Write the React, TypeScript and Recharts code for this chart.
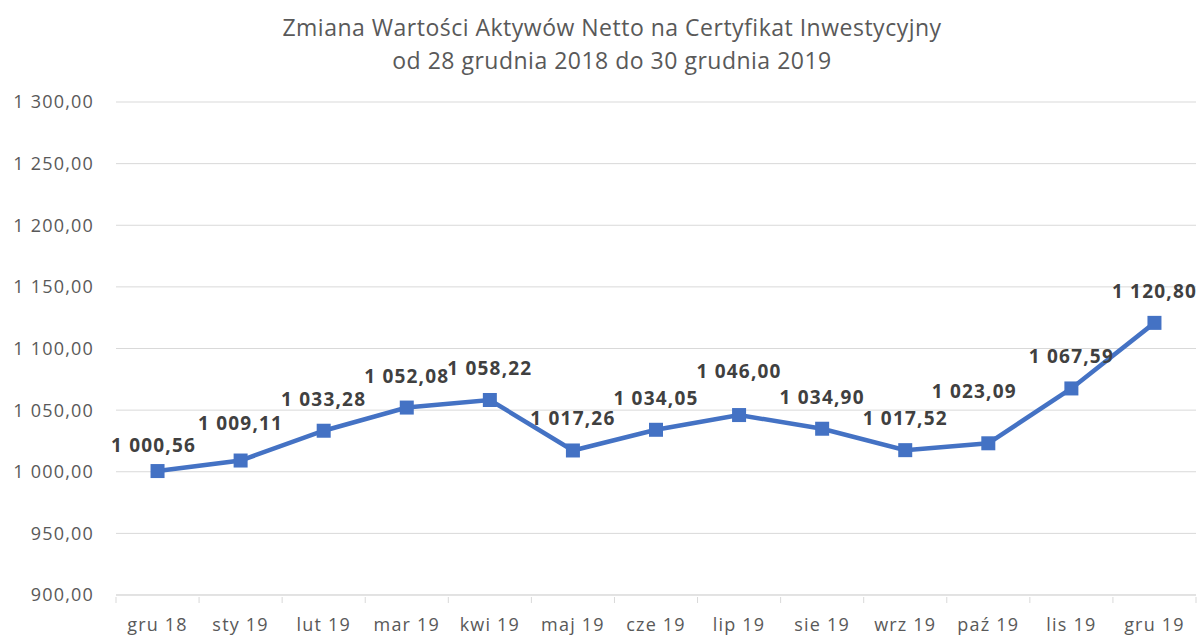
import { LineChart, Line, XAxis, YAxis, CartesianGrid, LabelList } from "recharts";

const months = ["gru 18", "sty 19", "lut 19", "mar 19", "kwi 19", "maj 19", "cze 19", "lip 19", "sie 19", "wrz 19", "paź 19", "lis 19", "gru 19"];
const navValues = [1000.56, 1009.11, 1033.28, 1052.08, 1058.22, 1017.26, 1034.05, 1046.0, 1034.9, 1017.52, 1023.09, 1067.59, 1120.8];
const yTicks = [900, 950, 1000, 1050, 1100, 1150, 1200, 1250, 1300];

const chartData = months.map((m, i) => ({ month: m, nav: navValues[i] }));

const WIDTH = 1200;
const HEIGHT = 637;
const Y_AXIS_W = 116;
const RIGHT = 4;
const BAND = (WIDTH - Y_AXIS_W - RIGHT) / months.length;

// label tweaks (dx, dy) where Excel moved a label by hand
const LABEL_NUDGES: Record<number, [number, number]> = {
  0: [-4, 6],
  1: [0, -6],
  7: [0, -12],
  10: [-14, -20],
};

const FONT = "'Open Sans', 'Noto Sans', sans-serif";

const fmt = (v: number) => {
  const [int, dec] = v.toFixed(2).split(".");
  return int.replace(/\B(?=(\d{3})+(?!\d))/g, " ") + "," + dec;
};

const XTick = (props: any) => {
  const { x, y, payload, index } = props;
  const last = index === months.length - 1;
  return (
    <g>
      <line x1={x - BAND / 2} x2={x - BAND / 2} y1={y} y2={y + 6} stroke="#D9D9D9" />
      {last && <line x1={x + BAND / 2} x2={x + BAND / 2} y1={y} y2={y + 6} stroke="#D9D9D9" />}
      <text x={x} y={y + 34} textAnchor="middle" fill="#595959" fontSize={18} letterSpacing={1.2} fontFamily={FONT}>
        {payload.value}
      </text>
    </g>
  );
};

const DataLabel = (props: any) => {
  const { x, y, value, index } = props;
  const [dx, dy] = LABEL_NUDGES[index] || [0, 0];
  return (
    <text
      x={x + dx}
      y={y - 25 + dy}
      textAnchor="middle"
      fill="#404040"
      fontSize={19}
      letterSpacing={1.2}
      fontWeight="bold"
      fontFamily={FONT}
    >
      {fmt(value)}
    </text>
  );
};

const SquareDot = (props: any) => {
  const { cx, cy } = props;
  return <rect x={cx - 7} y={cy - 7} width={14} height={14} fill="#4472C4" />;
};

export default function App() {
  return (
    <div style={{ position: "absolute", left: 0, top: 0, width: WIDTH, height: HEIGHT, background: "#fff" }}>
      <div
        style={{
          position: "absolute",
          left: 0,
          top: 11,
          width: WIDTH + 24,
          textAlign: "center",
          color: "#595959",
          fontSize: 23,
          letterSpacing: 0.5,
          lineHeight: "33px",
          fontFamily: FONT,
        }}
      >
        Zmiana Wartości Aktywów Netto na Certyfikat Inwestycyjny
        <br />
        od 28 grudnia 2018 do 30 grudnia 2019
      </div>
      <LineChart width={WIDTH} height={HEIGHT} data={chartData} margin={{ top: 102, right: RIGHT, bottom: 0, left: 0 }}>
        <CartesianGrid vertical={false} stroke="#D9D9D9" />
        <XAxis
          dataKey="month"
          height={42}
          padding={{ left: BAND / 2, right: BAND / 2 }}
          axisLine={{ stroke: "#D9D9D9" }}
          tickLine={false}
          tickSize={0}
          interval={0}
          tick={<XTick />}
        />
        <YAxis
          width={Y_AXIS_W}
          domain={[900, 1300]}
          ticks={yTicks}
          tickFormatter={fmt}
          axisLine={false}
          tickLine={false}
          tickSize={0}
          tickMargin={22}
          tick={{ fill: "#595959", fontSize: 18, letterSpacing: 1.2, fontFamily: FONT }}
        />
        <Line
          dataKey="nav"
          stroke="#4472C4"
          strokeWidth={4.5}
          dot={<SquareDot />}
          activeDot={false}
          isAnimationActive={false}
        >
          <LabelList dataKey="nav" content={<DataLabel />} />
        </Line>
      </LineChart>
    </div>
  );
}
